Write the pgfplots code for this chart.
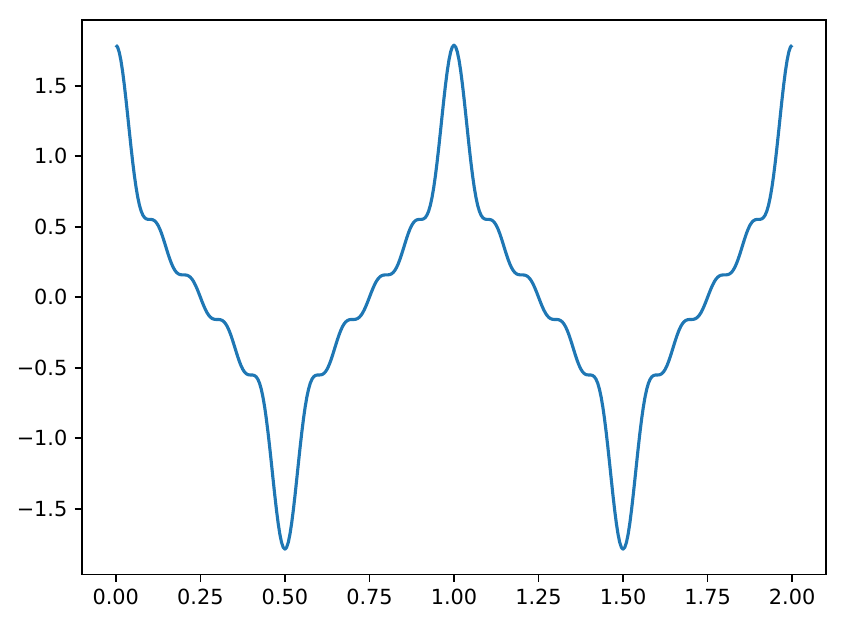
\documentclass[border=0pt]{standalone}
\usepackage{pgfplots}
\pgfplotsset{compat=1.18}
\usepackage{fontspec}
\setmainfont{DejaVu Sans}
\definecolor{mplblue}{RGB}{31,119,180}
\begin{document}
\begin{tikzpicture}
\begin{axis}[
  scale only axis,
  at={(0,0)}, anchor=south west,
  width=357.12pt, height=266.1pt,
  xmin=-0.1, xmax=2.1, ymin=-1.966, ymax=1.966,
  axis line style={line width=0.8pt, black},
  every tick/.style={line width=0.8pt, black},
  tick align=outside, major tick length=3.5pt,
  xtick pos=bottom, ytick pos=left,
  xtick={0,0.25,0.5,0.75,1,1.25,1.5,1.75,2},
  xticklabels={0.00,0.25,0.50,0.75,1.00,1.25,1.50,1.75,2.00},
  ytick={-1.5,-1,-0.5,0,0.5,1,1.5},
  yticklabels={−1.5,−1.0,−0.5,0.0,0.5,1.0,1.5},
  ticklabel style={font=\fontsize{10}{12}\selectfont},
  /pgf/number format/assume math mode=true,
]
\addplot[mplblue, line width=1.5pt, line join=round] table {
x y
0.000 1.7873
0.005 1.7750
0.010 1.7387
0.015 1.6802
0.020 1.6022
0.025 1.5084
0.030 1.4029
0.035 1.2905
0.040 1.1758
0.045 1.0634
0.050 0.9574
0.055 0.8611
0.060 0.7771
0.065 0.7070
0.070 0.6515
0.075 0.6102
0.080 0.5818
0.085 0.5644
0.090 0.5555
0.095 0.5522
0.100 0.5518
0.105 0.5513
0.110 0.5485
0.115 0.5414
0.120 0.5286
0.125 0.5096
0.130 0.4843
0.135 0.4535
0.140 0.4183
0.145 0.3803
0.150 0.3413
0.155 0.3032
0.160 0.2678
0.165 0.2364
0.170 0.2101
0.175 0.1895
0.180 0.1748
0.185 0.1653
0.190 0.1603
0.195 0.1584
0.200 0.1581
0.205 0.1578
0.210 0.1560
0.215 0.1512
0.220 0.1424
0.225 0.1290
0.230 0.1107
0.235 0.0877
0.240 0.0608
0.245 0.0312
0.250 0.0000
0.255 -0.0312
0.260 -0.0608
0.265 -0.0877
0.270 -0.1107
0.275 -0.1290
0.280 -0.1424
0.285 -0.1512
0.290 -0.1560
0.295 -0.1578
0.300 -0.1581
0.305 -0.1584
0.310 -0.1603
0.315 -0.1653
0.320 -0.1748
0.325 -0.1895
0.330 -0.2101
0.335 -0.2364
0.340 -0.2678
0.345 -0.3032
0.350 -0.3413
0.355 -0.3803
0.360 -0.4183
0.365 -0.4535
0.370 -0.4843
0.375 -0.5096
0.380 -0.5286
0.385 -0.5414
0.390 -0.5485
0.395 -0.5513
0.400 -0.5518
0.405 -0.5522
0.410 -0.5555
0.415 -0.5644
0.420 -0.5818
0.425 -0.6102
0.430 -0.6515
0.435 -0.7070
0.440 -0.7771
0.445 -0.8611
0.450 -0.9574
0.455 -1.0634
0.460 -1.1758
0.465 -1.2905
0.470 -1.4029
0.475 -1.5084
0.480 -1.6022
0.485 -1.6802
0.490 -1.7387
0.495 -1.7750
0.500 -1.7873
0.505 -1.7750
0.510 -1.7387
0.515 -1.6802
0.520 -1.6022
0.525 -1.5084
0.530 -1.4029
0.535 -1.2905
0.540 -1.1758
0.545 -1.0634
0.550 -0.9574
0.555 -0.8611
0.560 -0.7771
0.565 -0.7070
0.570 -0.6515
0.575 -0.6102
0.580 -0.5818
0.585 -0.5644
0.590 -0.5555
0.595 -0.5522
0.600 -0.5518
0.605 -0.5513
0.610 -0.5485
0.615 -0.5414
0.620 -0.5286
0.625 -0.5096
0.630 -0.4843
0.635 -0.4535
0.640 -0.4183
0.645 -0.3803
0.650 -0.3413
0.655 -0.3032
0.660 -0.2678
0.665 -0.2364
0.670 -0.2101
0.675 -0.1895
0.680 -0.1748
0.685 -0.1653
0.690 -0.1603
0.695 -0.1584
0.700 -0.1581
0.705 -0.1578
0.710 -0.1560
0.715 -0.1512
0.720 -0.1424
0.725 -0.1290
0.730 -0.1107
0.735 -0.0877
0.740 -0.0608
0.745 -0.0312
0.750 0.0000
0.755 0.0312
0.760 0.0608
0.765 0.0877
0.770 0.1107
0.775 0.1290
0.780 0.1424
0.785 0.1512
0.790 0.1560
0.795 0.1578
0.800 0.1581
0.805 0.1584
0.810 0.1603
0.815 0.1653
0.820 0.1748
0.825 0.1895
0.830 0.2101
0.835 0.2364
0.840 0.2678
0.845 0.3032
0.850 0.3413
0.855 0.3803
0.860 0.4183
0.865 0.4535
0.870 0.4843
0.875 0.5096
0.880 0.5286
0.885 0.5414
0.890 0.5485
0.895 0.5513
0.900 0.5518
0.905 0.5522
0.910 0.5555
0.915 0.5644
0.920 0.5818
0.925 0.6102
0.930 0.6515
0.935 0.7070
0.940 0.7771
0.945 0.8611
0.950 0.9574
0.955 1.0634
0.960 1.1758
0.965 1.2905
0.970 1.4029
0.975 1.5084
0.980 1.6022
0.985 1.6802
0.990 1.7387
0.995 1.7750
1.000 1.7873
1.005 1.7750
1.010 1.7387
1.015 1.6802
1.020 1.6022
1.025 1.5084
1.030 1.4029
1.035 1.2905
1.040 1.1758
1.045 1.0634
1.050 0.9574
1.055 0.8611
1.060 0.7771
1.065 0.7070
1.070 0.6515
1.075 0.6102
1.080 0.5818
1.085 0.5644
1.090 0.5555
1.095 0.5522
1.100 0.5518
1.105 0.5513
1.110 0.5485
1.115 0.5414
1.120 0.5286
1.125 0.5096
1.130 0.4843
1.135 0.4535
1.140 0.4183
1.145 0.3803
1.150 0.3413
1.155 0.3032
1.160 0.2678
1.165 0.2364
1.170 0.2101
1.175 0.1895
1.180 0.1748
1.185 0.1653
1.190 0.1603
1.195 0.1584
1.200 0.1581
1.205 0.1578
1.210 0.1560
1.215 0.1512
1.220 0.1424
1.225 0.1290
1.230 0.1107
1.235 0.0877
1.240 0.0608
1.245 0.0312
1.250 0.0000
1.255 -0.0312
1.260 -0.0608
1.265 -0.0877
1.270 -0.1107
1.275 -0.1290
1.280 -0.1424
1.285 -0.1512
1.290 -0.1560
1.295 -0.1578
1.300 -0.1581
1.305 -0.1584
1.310 -0.1603
1.315 -0.1653
1.320 -0.1748
1.325 -0.1895
1.330 -0.2101
1.335 -0.2364
1.340 -0.2678
1.345 -0.3032
1.350 -0.3413
1.355 -0.3803
1.360 -0.4183
1.365 -0.4535
1.370 -0.4843
1.375 -0.5096
1.380 -0.5286
1.385 -0.5414
1.390 -0.5485
1.395 -0.5513
1.400 -0.5518
1.405 -0.5522
1.410 -0.5555
1.415 -0.5644
1.420 -0.5818
1.425 -0.6102
1.430 -0.6515
1.435 -0.7070
1.440 -0.7771
1.445 -0.8611
1.450 -0.9574
1.455 -1.0634
1.460 -1.1758
1.465 -1.2905
1.470 -1.4029
1.475 -1.5084
1.480 -1.6022
1.485 -1.6802
1.490 -1.7387
1.495 -1.7750
1.500 -1.7873
1.505 -1.7750
1.510 -1.7387
1.515 -1.6802
1.520 -1.6022
1.525 -1.5084
1.530 -1.4029
1.535 -1.2905
1.540 -1.1758
1.545 -1.0634
1.550 -0.9574
1.555 -0.8611
1.560 -0.7771
1.565 -0.7070
1.570 -0.6515
1.575 -0.6102
1.580 -0.5818
1.585 -0.5644
1.590 -0.5555
1.595 -0.5522
1.600 -0.5518
1.605 -0.5513
1.610 -0.5485
1.615 -0.5414
1.620 -0.5286
1.625 -0.5096
1.630 -0.4843
1.635 -0.4535
1.640 -0.4183
1.645 -0.3803
1.650 -0.3413
1.655 -0.3032
1.660 -0.2678
1.665 -0.2364
1.670 -0.2101
1.675 -0.1895
1.680 -0.1748
1.685 -0.1653
1.690 -0.1603
1.695 -0.1584
1.700 -0.1581
1.705 -0.1578
1.710 -0.1560
1.715 -0.1512
1.720 -0.1424
1.725 -0.1290
1.730 -0.1107
1.735 -0.0877
1.740 -0.0608
1.745 -0.0312
1.750 0.0000
1.755 0.0312
1.760 0.0608
1.765 0.0877
1.770 0.1107
1.775 0.1290
1.780 0.1424
1.785 0.1512
1.790 0.1560
1.795 0.1578
1.800 0.1581
1.805 0.1584
1.810 0.1603
1.815 0.1653
1.820 0.1748
1.825 0.1895
1.830 0.2101
1.835 0.2364
1.840 0.2678
1.845 0.3032
1.850 0.3413
1.855 0.3803
1.860 0.4183
1.865 0.4535
1.870 0.4843
1.875 0.5096
1.880 0.5286
1.885 0.5414
1.890 0.5485
1.895 0.5513
1.900 0.5518
1.905 0.5522
1.910 0.5555
1.915 0.5644
1.920 0.5818
1.925 0.6102
1.930 0.6515
1.935 0.7070
1.940 0.7771
1.945 0.8611
1.950 0.9574
1.955 1.0634
1.960 1.1758
1.965 1.2905
1.970 1.4029
1.975 1.5084
1.980 1.6022
1.985 1.6802
1.990 1.7387
1.995 1.7750
2.000 1.7873
};
\end{axis}
\path (-39.36pt,-27.84pt) rectangle (368.16pt,275.7pt);
\end{tikzpicture}
\end{document}
